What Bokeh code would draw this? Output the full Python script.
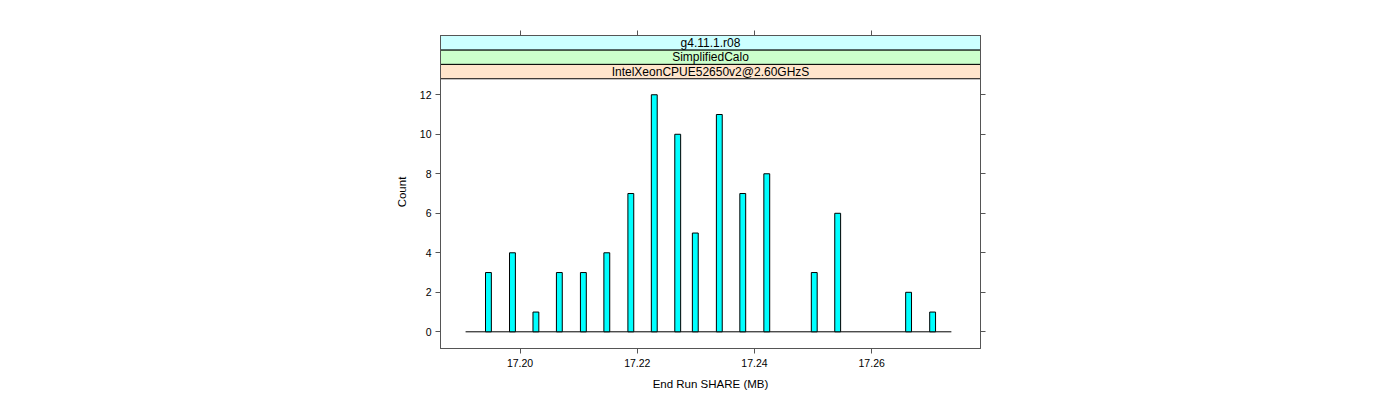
from bokeh.plotting import figure
from bokeh.models import (Range1d, LinearAxis, FixedTicker, ColumnDataSource,
                          NumeralTickFormatter, CustomJSTickFormatter)
from bokeh.core.properties import value
from bokeh.embed import file_html
from bokeh.resources import INLINE

# ---- data ----
share_mb = [17.1946, 17.1987, 17.2027, 17.2067, 17.2108, 17.2148, 17.2189,
            17.2229, 17.2269, 17.2299, 17.2340, 17.2380, 17.2421, 17.2502,
            17.2542, 17.2663, 17.2704]
counts = [3, 4, 1, 3, 3, 4, 7, 12, 10, 5, 11, 7, 8, 3, 6, 2, 1]
baseline_from = 17.1907
baseline_to = 17.2736
x_ticks = [17.20, 17.22, 17.24, 17.26]
y_ticks = [0, 2, 4, 6, 8, 10, 12]
strip_labels = ["IntelXeonCPUE52650v2@2.60GHzS", "SimplifiedCalo", "g4.11.1.r08"]
strip_colors = ["#ffe5cc", "#ccffcc", "#ccffff"]

# ---- layout constants ----
X0, X1 = 17.18642, 17.27857
Y0, Y1 = -0.845, 15.0
PANEL_TOP = 12.81
STRIP_H = (Y1 - PANEL_TOP) / 3.0
FONT = "Liberation Sans"
FRAME_COL = "#555555"

p = figure(frame_width=540, frame_height=313,
           x_range=Range1d(X0, X1), y_range=Range1d(Y0, Y1),
           output_backend="svg", toolbar_location=None,
           min_border_left=440, min_border_top=35, min_border_right=404,
           min_border_bottom=45,
           x_axis_label="End Run SHARE (MB)", y_axis_label="Count")
p.xgrid.visible = False
p.ygrid.visible = False
p.outline_line_color = FRAME_COL
p.outline_line_width = 1
p.background_fill_color = "white"
p.border_fill_color = "white"

def style_axis(ax, ticks):
    ax.ticker = FixedTicker(ticks=ticks)
    ax.minor_tick_line_color = None
    ax.major_tick_in = 0
    ax.major_tick_out = 5
    ax.major_tick_line_color = FRAME_COL
    ax.axis_line_color = FRAME_COL
    ax.major_label_text_font = FONT
    ax.major_label_text_color = "black"
    ax.major_label_text_font_size = "10.5px"
    ax.axis_label_text_font = FONT
    ax.axis_label_text_font_style = "normal"
    ax.axis_label_text_color = "black"
    ax.axis_label_text_font_size = "11.5px"

style_axis(p.xaxis[0], x_ticks)
p.xaxis[0].major_label_standoff = 5
p.xaxis[0].axis_label_standoff = 8
p.xaxis[0].formatter = NumeralTickFormatter(format="0.00")
style_axis(p.yaxis[0], y_ticks)
p.yaxis[0].major_label_standoff = 4
p.yaxis[0].axis_label_standoff = 9

blank = CustomJSTickFormatter(code="return ''")
top_ax = LinearAxis()
style_axis(top_ax, x_ticks)
top_ax.formatter = blank
p.add_layout(top_ax, "above")
right_ax = LinearAxis()
style_axis(right_ax, y_ticks)
right_ax.formatter = CustomJSTickFormatter(code="return ''")
p.add_layout(right_ax, "right")

# baseline
p.segment(x0=[baseline_from], y0=[0], x1=[baseline_to], y1=[0],
          line_color="black", line_width=1)

# bars
src = ColumnDataSource(dict(x=share_mb, top=counts))
p.vbar(x="x", top="top", bottom=0, width=0.001, source=src,
       fill_color="#00ffff", line_color="black", line_width=1)

# strips
bottoms = [PANEL_TOP + i * STRIP_H for i in range(3)]
tops = [b + STRIP_H for b in bottoms]
ssrc = ColumnDataSource(dict(left=[X0] * 3, right=[X1] * 3, bottom=bottoms,
                             top=tops, color=strip_colors, label=strip_labels,
                             xm=[(X0 + X1) / 2] * 3,
                             ym=[(b + t) / 2 for b, t in zip(bottoms, tops)]))
p.quad(left="left", right="right", bottom="bottom", top="top",
       fill_color="color", line_color="black", line_width=1, source=ssrc)
p.text(x="xm", y="ym", text="label", source=ssrc, text_align="center",
       text_baseline="middle", text_font=value(FONT),
       text_font_size="12px", text_color="black")

open("out.html", "w").write(file_html(p, INLINE))
